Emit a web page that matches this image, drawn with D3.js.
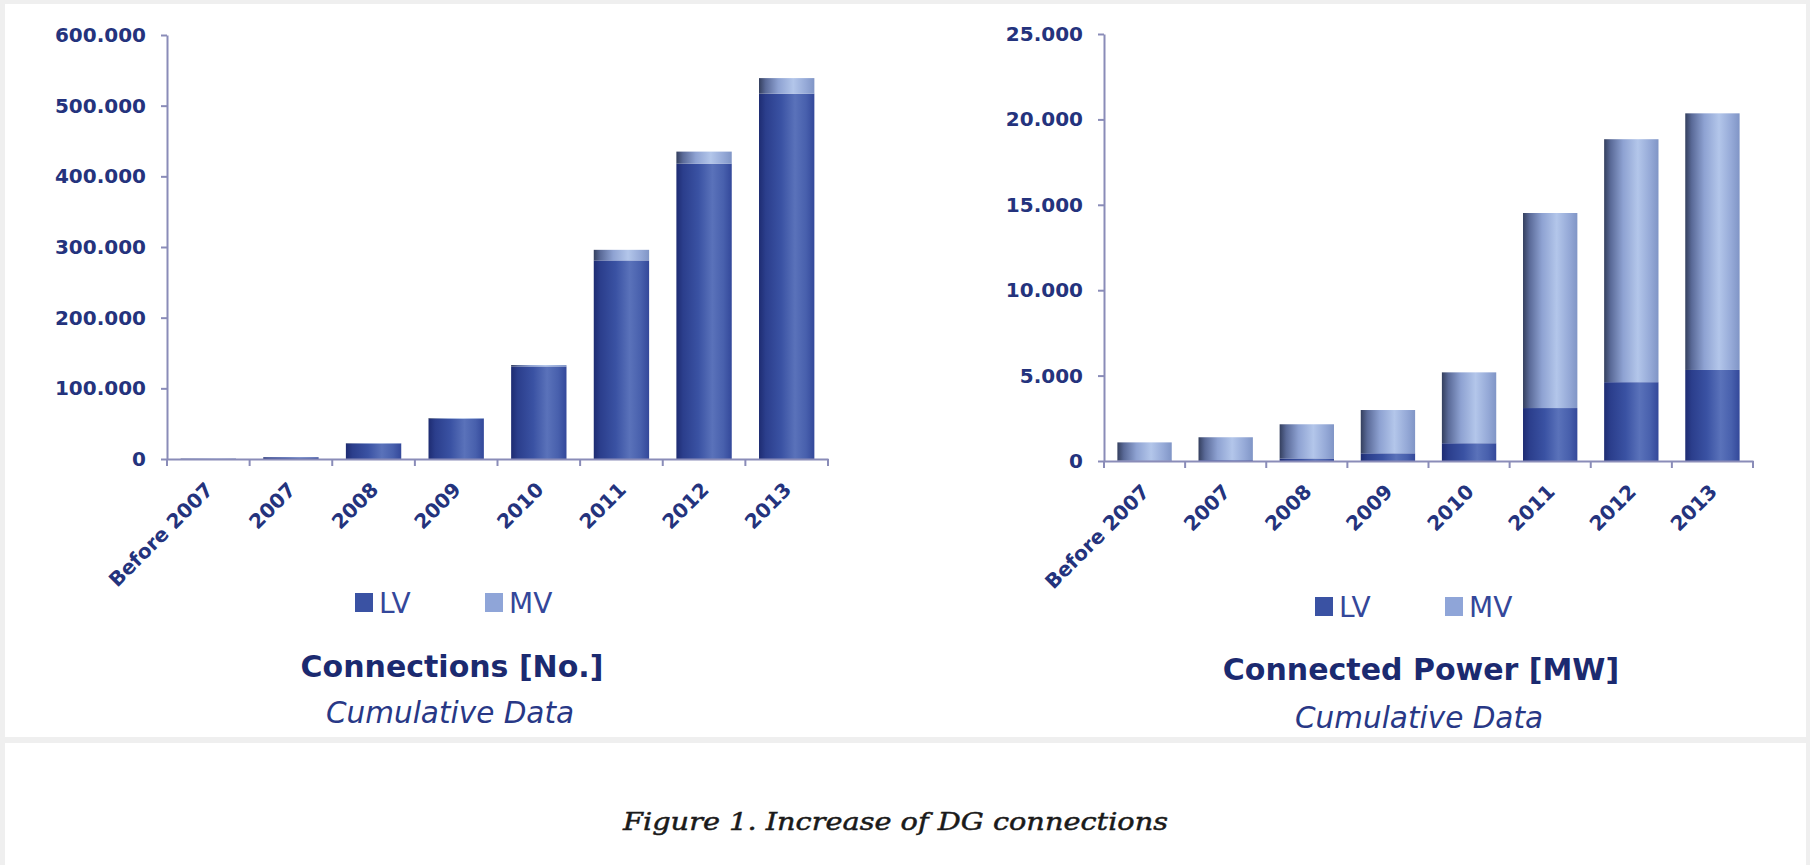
<!DOCTYPE html>
<html><head><meta charset="utf-8">
<script src="https://cdn.jsdelivr.net/npm/d3@7"></script>
<style>html,body{margin:0;padding:0;background:#efefef;overflow:hidden}</style>
</head><body><svg id="c" width="1810" height="865"></svg>
<script>
const categories = ["Before 2007","2007","2008","2009","2010","2011","2012","2013"];
const seriesNames = ["LV","MV"];
const connectionsLV = [500, 2500, 22000, 57000, 131000, 281000, 418000, 517000];
const connectionsMV = [50, 100, 500, 1000, 2000, 15000, 17000, 22000];
const powerLV = [30, 50, 150, 450, 1040, 3100, 4615, 5330];
const powerMV = [1060, 1340, 2000, 2535, 4150, 11420, 14225, 15025];
const connectionsTicks = [0, 100000, 200000, 300000, 400000, 500000, 600000];
const powerTicks = [0, 5000, 10000, 15000, 20000, 25000];
const titles = ["Connections [No.]", "Connected Power [MW]"];
const subtitle = "Cumulative Data";
const caption = "Figure 1. Increase of DG connections";

const svg = d3.select("#c");
const fmt = d3.formatLocale({decimal: ",", thousands: ".", grouping: [3], currency: ["", ""]}).format(",d");

// backgrounds
svg.append("rect").attr("x",0).attr("y",0).attr("width",1810).attr("height",865).attr("fill","#efefef");
svg.append("rect").attr("x",5).attr("y",4).attr("width",1801).attr("height",733).attr("fill","#ffffff");
svg.append("rect").attr("x",5).attr("y",743).attr("width",1801).attr("height",122).attr("fill","#ffffff");

// gradients
const defs = svg.append("defs");
function grad(id, stops){
  const g = defs.append("linearGradient").attr("id", id).attr("x1","0").attr("x2","1").attr("y1","0").attr("y2","0");
  stops.forEach(s => g.append("stop").attr("offset", s[0]).attr("stop-color", s[1]));
}
grad("grad-LV", [["0%","#1e2c72"],["12%","#2b3e8c"],["40%","#3a52a3"],["65%","#5a72ba"],["85%","#4860ad"],["100%","#33489a"]]);
grad("grad-MV", [["0%","#343f5e"],["12%","#5a6a98"],["35%","#8ea2d2"],["62%","#b3c6ea"],["85%","#95a9d7"],["100%","#8095c6"]]);

const axisColor = "#8a8cb8";
const labelColor = "#24337d";

function chart(cfg){
  const x = d3.scaleBand().domain(categories).range([cfg.x0, cfg.x1]).paddingInner(0).paddingOuter(0);
  const y = d3.scaleLinear().domain([0, cfg.max]).range([cfg.y0, cfg.yTop]);
  const data = categories.map((c, i) => ({cat: c, LV: cfg.lv[i], MV: cfg.mv[i]}));
  const stacked = d3.stack().keys(seriesNames)(data);
  const bw = x.bandwidth() * 0.67;
  const g = svg.append("g");
  g.selectAll("g.series").data(stacked).join("g").attr("class","series")
    .attr("fill", d => `url(#grad-${d.key})`)
    .selectAll("rect").data(d => d).join("rect")
    .attr("x", d => x(d.data.cat) + (x.bandwidth() - bw) / 2)
    .attr("width", bw)
    .attr("y", d => y(d[1]))
    .attr("height", d => Math.max(0, y(d[0]) - y(d[1])));

  // y axis
  const ya = g.append("g").attr("transform", `translate(${cfg.x0},0)`)
    .call(d3.axisLeft(y).tickValues(cfg.ticks).tickFormat(fmt).tickSize(6).tickSizeOuter(0).tickPadding(15));
  ya.selectAll("path,line").attr("stroke", axisColor).attr("stroke-width", 2);
  ya.selectAll("text").attr("fill", labelColor).attr("font-family", "DejaVu Sans").attr("font-weight", "bold").attr("font-size", 20);

  // x axis
  const xa = g.append("g").attr("transform", `translate(0,${cfg.y0})`)
    .call(d3.axisBottom(x).tickSize(0).tickSizeOuter(0).tickFormat(""));
  xa.selectAll("path").attr("stroke", axisColor).attr("stroke-width", 2);
  const bounds = categories.map(c => x(c)).concat([cfg.x1]);
  xa.selectAll("line.bt").data(bounds).join("line").attr("class","bt")
    .attr("x1", d => d).attr("x2", d => d).attr("y1", 0).attr("y2", 7)
    .attr("stroke", axisColor).attr("stroke-width", 2);
  xa.selectAll("text.xl").data(categories).join("text").attr("class","xl")
    .attr("transform", d => `translate(${x(d) + x.bandwidth()/2 + 6},32) rotate(-45)`)
    .attr("text-anchor", "end")
    .attr("fill", labelColor).attr("font-family", "DejaVu Sans").attr("font-weight", "bold").attr("font-size", 20)
    .text(d => d);

  // legend
  const lg = g.append("g");
  seriesNames.forEach((s, i) => {
    const lx = cfg.legendX + i * 130;
    lg.append("rect").attr("x", lx).attr("y", cfg.legendY - 20).attr("width", 18).attr("height", 19)
      .attr("fill", s === "LV" ? "#3a52a3" : "#8fa5d8");
    lg.append("text").attr("x", lx + 24).attr("y", cfg.legendY)
      .attr("fill", "#34479a").attr("font-family", "DejaVu Sans").attr("font-size", 28).text(s);
  });

  g.append("text").attr("x", cfg.titleX).attr("y", cfg.titleY).attr("text-anchor", "middle")
    .attr("fill", "#1b2a70").attr("font-family", "DejaVu Sans").attr("font-weight", "bold").attr("font-size", 30)
    .text(cfg.title);
  g.append("text").attr("x", cfg.titleX - 2).attr("y", cfg.subY).attr("text-anchor", "middle")
    .attr("fill", "#283886").attr("font-family", "DejaVu Sans").attr("font-style", "italic").attr("font-size", 29.5)
    .text(subtitle);
}

chart({x0: 167, x1: 828, y0: 459, yTop: 35, max: 600000, ticks: connectionsTicks,
       lv: connectionsLV, mv: connectionsMV, legendX: 355, legendY: 613,
       title: titles[0], titleX: 452, titleY: 677, subY: 723});
chart({x0: 1104, x1: 1753, y0: 461, yTop: 34, max: 25000, ticks: powerTicks,
       lv: powerLV, mv: powerMV, legendX: 1315, legendY: 617,
       title: titles[1], titleX: 1421, titleY: 680, subY: 728});

svg.append("text").attr("x", 623).attr("y", 830)
  .attr("fill", "#1a1a1a").attr("stroke", "#1a1a1a").attr("stroke-width", 0.5)
  .attr("font-family", "DejaVu Serif").attr("font-style", "italic").attr("font-size", 25)
  .attr("textLength", 545).attr("lengthAdjust", "spacingAndGlyphs")
  .text(caption);
</script></body></html>
